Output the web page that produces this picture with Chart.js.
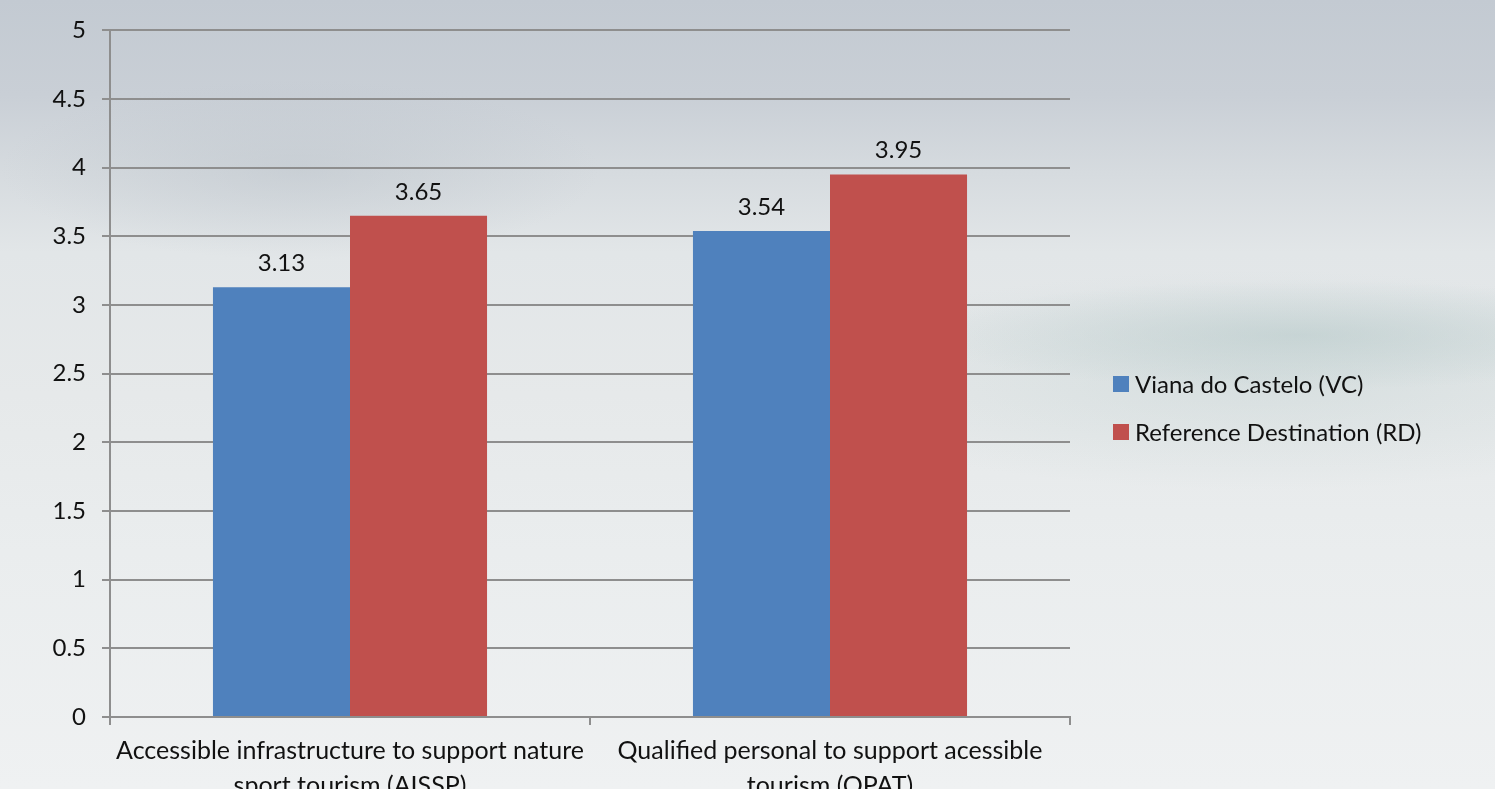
<!DOCTYPE html>
<html>
<head>
<meta charset="utf-8">
<title>AISSP / QPAT</title>
<script src="https://cdn.jsdelivr.net/npm/chart.js@4/dist/chart.umd.min.js"></script>
<style>
    html, body { margin: 0; padding: 0; width: 1495px; height: 789px; overflow: hidden; }
    body {
        position: relative;
        font-family: Lato, "Open Sans", sans-serif;
        background:
            radial-gradient(ellipse 380px 55px at 1300px 335px, rgba(178, 198, 198, 0.5), rgba(178, 198, 198, 0)),
            radial-gradient(ellipse 480px 110px at 1260px 380px, rgba(192, 208, 208, 0.4), rgba(192, 208, 208, 0)),
            radial-gradient(ellipse 300px 90px at 300px 170px, rgba(182, 190, 198, 0.4), rgba(182, 190, 198, 0)),
            linear-gradient(180deg, #c3cad2 0%, #c9cfd6 12%, #d6dbdf 22%, #e2e6e8 32%, #e6e9ea 50%, #eaedee 70%, #eff1f2 100%);
    }
    #wrap { position: absolute; left: 0; top: 0; width: 1495px; height: 789px; }
    .legend { position: absolute; left: 1113px; top: 360px; font-size: 24px; color: #111; }
    .legend div { display: flex; align-items: center; height: 48px; line-height: 1; }
    .legend span.box { width: 16px; height: 16px; margin-right: 6px; display: inline-block; }
</style>
</head>
<body>
<div id="wrap"><canvas id="chart"></canvas></div>
<div class="legend" id="legend"></div>
<script>
const categories = [
    ['Accessible infrastructure to support nature', 'sport tourism (AISSP)'],
    ['Qualified personal to support acessible', 'tourism (QPAT)']
];
const seriesNames = ['Viana do Castelo (VC)', 'Reference Destination (RD)'];
const vcValues = [3.13, 3.54];
const rdValues = [3.65, 3.95];
const seriesColors = ['#4f81bd', '#c0504d'];

// value labels above each bar
const valueLabels = {
    id: 'valueLabels',
    afterDatasetsDraw(chart) {
        const ctx = chart.ctx;
        ctx.save();
        ctx.font = '24px Lato, "Open Sans", sans-serif';
        ctx.fillStyle = '#111';
        ctx.textAlign = 'center';
        ctx.textBaseline = 'bottom';
        chart.data.datasets.forEach((ds, i) => {
            chart.getDatasetMeta(i).data.forEach((bar, j) => {
                ctx.fillText(ds.data[j].toFixed(2), bar.x, bar.y - 12);
            });
        });
        ctx.restore();
    }
};

const gridColor = '#8e8e8e';

new Chart(document.getElementById('chart'), {
    type: 'bar',
    data: {
        labels: categories,
        datasets: [
            { label: seriesNames[0], data: vcValues, backgroundColor: seriesColors[0] },
            { label: seriesNames[1], data: rdValues, backgroundColor: seriesColors[1] }
        ]
    },
    options: {
        responsive: true,
        maintainAspectRatio: false,
        animation: false,
        layout: { padding: { top: 30, right: 425, left: 0, bottom: 0 } },
        plugins: { legend: { display: false }, tooltip: { enabled: false } },
        datasets: { bar: { categoryPercentage: 0.571, barPercentage: 1.0 } },
        scales: {
            x: {
                offset: true,
                grid: { offset: true, drawOnChartArea: false, color: gridColor, lineWidth: 2, tickLength: 8 },
                border: { color: gridColor, width: 2 },
                ticks: { color: '#111', font: { family: 'Lato', size: 25, lineHeight: 1.4 }, padding: 8, maxRotation: 0, autoSkip: false },
                afterFit(scale) { scale.height = 72; }
            },
            y: {
                min: 0,
                max: 5,
                ticks: {
                    stepSize: 0.5,
                    color: '#111',
                    font: { family: 'Lato', size: 24 },
                    padding: 16,
                    callback: v => String(v)
                },
                grid: { color: gridColor, lineWidth: 2, tickLength: 8 },
                border: { color: gridColor, width: 2 },
                afterFit(scale) { scale.width = 110; }
            }
        }
    },
    plugins: [valueLabels]
});

const legend = document.getElementById('legend');
seriesNames.forEach((name, i) => {
    const row = document.createElement('div');
    row.innerHTML = `<span class="box" style="background:${seriesColors[i]}"></span>${name}`;
    legend.appendChild(row);
});
</script>
</body>
</html>
